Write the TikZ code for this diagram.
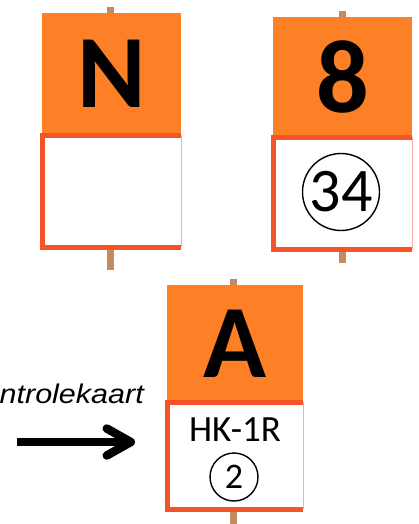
\documentclass[tikz,border=0pt]{standalone}
\usepackage{fontspec}
\setmainfont{Carlito}
\newfontfamily\arialfont{Liberation Sans}
\usetikzlibrary{arrows.meta}
\definecolor{signorange}{RGB}{253,128,38}
\definecolor{signred}{RGB}{246,84,40}
\definecolor{polebrown}{RGB}{196,138,98}
\definecolor{thinpink}{RGB}{250,170,160}
\begin{document}
\begin{tikzpicture}[x=1pt,y=-1pt,
  topbox/.style={fill=signorange, draw=none, inner sep=0pt, minimum width=139pt, minimum height=#1pt, anchor=north west,
     font=\fontsize{104}{104}\selectfont\bfseries},
  whitebox/.style={fill=white, draw=none, inner sep=0pt, minimum width=139pt, minimum height=#1pt, anchor=north west},
  frame/.style={draw=signred, line width=5pt},
  thinframe/.style={draw=thinpink, line width=1.2pt},
  ring/.style={draw=black, circle, line width=1.4pt, inner sep=0pt, minimum size=#1pt},
  pointer/.style={line width=8.5pt, -{Straight Barb[round,length=24pt,width=27pt]}}]
\useasboundingbox (0,0) rectangle (418,524);
% poles
\fill[polebrown] (107,7) rectangle (114,13);
\fill[polebrown] (107,248) rectangle (114,270);
\fill[polebrown] (339,11) rectangle (346,17);
\fill[polebrown] (339,249) rectangle (346,263);
\fill[polebrown] (230,279) rectangle (237,285);
\fill[polebrown] (230,509) rectangle (237,524);
% sign N
\node[topbox=122] (topN) at (42,13) {N};
\node[whitebox=112] (boxN) at (42,135) {};
\draw[thinframe] (boxN.north east) -- (boxN.south east);
\draw[frame] (boxN.north east) -- (boxN.north west) -- (boxN.south west) -- (boxN.south east);
% sign 8
\node[topbox=120] (top8) at (273,17) {8};
\node[whitebox=112] (box8) at (273,137) {};
\draw[thinframe] (box8.north east) -- (box8.south east);
\draw[frame] (box8.north east) -- (box8.north west) -- (box8.south west) -- (box8.south east);
\node[ring=77, font=\fontsize{62}{62}\selectfont] (c34) at (341,192) {34};
% sign A
\node[topbox=117, minimum width=136pt] (topA) at (167,285) {A};
\node[whitebox=107, minimum width=136pt] (boxA) at (167,402) {};
\draw[thinframe] (boxA.north east) -- (boxA.south east);
\draw[frame] (boxA.north east) -- (boxA.north west) -- (boxA.south west) -- (boxA.south east);
\node[font=\fontsize{37}{37}\selectfont] (hk) at (235,430) {HK-1R};
\node[ring=48, font=\fontsize{36}{36}\selectfont] (c2) at (234,477) {2};
% label and arrow
\node[anchor=base east, inner sep=0pt, font=\arialfont\itshape\fontsize{27}{27}\selectfont] (lbl) at (144,403) {\scalebox{1.13}[1]{ntrolekaart}};
\coordinate (arrstart) at (17,442);
\draw[pointer] (arrstart) -- ([xshift=-32pt]boxA.west |- arrstart);
\end{tikzpicture}
\end{document}
